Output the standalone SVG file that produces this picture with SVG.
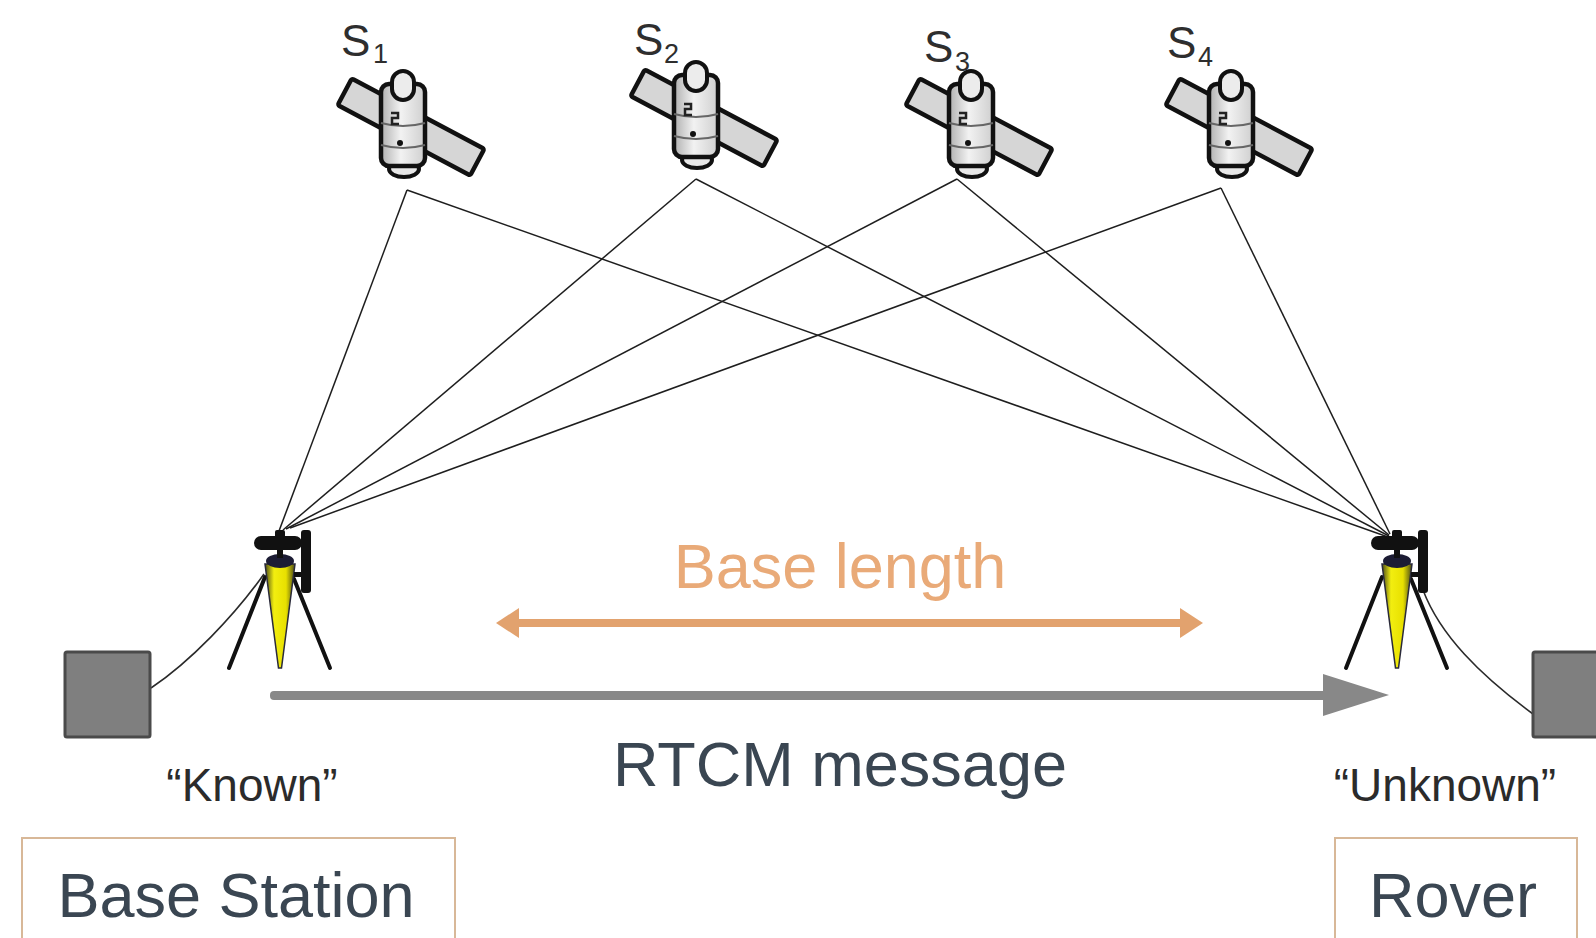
<svg xmlns="http://www.w3.org/2000/svg" width="1596" height="938" viewBox="0 0 1596 938">
  <style>
    .sig { stroke: #1e1e1e; stroke-width: 1.5; fill: none; }
    .cable { stroke: #2a2a2a; stroke-width: 1.6; fill: none; }
    .slab { font-family: "Liberation Sans", Arial, sans-serif; font-size: 44px; fill: #2e2e2e; }
    .ssub { font-family: "Liberation Sans", Arial, sans-serif; font-size: 27px; fill: #2e2e2e; }
    .quote { font-family: "Liberation Sans", Arial, sans-serif; font-size: 46px; fill: #2b2b2b; }
    .big { font-family: "Liberation Sans", Arial, sans-serif; font-size: 63px; fill: #3a4652; }
    .orange { fill: #e9aa78; }
    .box { fill: #7f7f7f; stroke: #4a4a4a; stroke-width: 3; }
    .frame { fill: #ffffff; stroke: #d8b898; stroke-width: 2; }
  </style>
  <defs>
    <linearGradient id="bodyShade" x1="0" y1="0" x2="1" y2="0">
      <stop offset="0" stop-color="#b0b0b0"/>
      <stop offset="0.45" stop-color="#f2f2f2"/>
      <stop offset="1" stop-color="#cfcfcf"/>
    </linearGradient>
    <linearGradient id="coneShade" x1="0" y1="0" x2="1" y2="0">
      <stop offset="0" stop-color="#4a4a18"/>
      <stop offset="0.3" stop-color="#f2ee10"/>
      <stop offset="0.7" stop-color="#e8e000"/>
      <stop offset="1" stop-color="#4a4a18"/>
    </linearGradient>
    <!-- satellite icon, origin at body centre -->
    <g id="sat">
      <rect x="-75" y="-15" width="150" height="30" rx="2" transform="translate(8,2) rotate(28)" fill="#d6d6d6" stroke="#111" stroke-width="4.5" stroke-linejoin="round"/>
      <ellipse cx="1" cy="44" rx="15" ry="8" fill="#e8e8e8" stroke="#111" stroke-width="4"/>
      <rect x="-22" y="-41" width="44" height="82" rx="8" fill="url(#bodyShade)" stroke="#111" stroke-width="4.5"/>
      <path d="M-22,-2 Q0,4 22,-2 M-22,20 Q0,26 22,20" fill="none" stroke="#666" stroke-width="2"/>
      <path d="M-12,-12 h7 v5 h-6 v6 h7" fill="none" stroke="#222" stroke-width="2.5"/>
      <circle cx="-3" cy="18" r="3" fill="#111"/>
      <rect x="-11" y="-54" width="22" height="29" rx="11" fill="#ececec" stroke="#111" stroke-width="4"/>
    </g>
    <!-- survey tripod with antenna, origin at cone centre line -->
    <g id="tripod">
      <line x1="-15" y1="577" x2="-51" y2="668" stroke="#111" stroke-width="4" stroke-linecap="round"/>
      <line x1="14" y1="579" x2="50" y2="668" stroke="#111" stroke-width="4" stroke-linecap="round"/>
      <path d="M-15,564 L15,564 L1.5,668 L-1.5,668 Z" fill="url(#coneShade)" stroke="#2a2a3a" stroke-width="1.5"/>
      <ellipse cx="0" cy="561" rx="14" ry="7" fill="#1c1c34"/>
      <rect x="-3" y="548" width="6" height="10" fill="#111"/>
      <rect x="-26" y="536" width="48" height="14" rx="7" fill="#111"/>
      <rect x="-5" y="530" width="10" height="8" rx="2" fill="#111"/>
      <rect x="21" y="530" width="10" height="63" rx="3" fill="#111"/>
      <rect x="14" y="572" width="10" height="5" fill="#111"/>
    </g>
  </defs>

  <rect x="0" y="0" width="1596" height="938" fill="#ffffff"/>

  <!-- signal paths from each satellite to both receivers -->
  <g id="connectors">
    <line class="sig" x1="407" y1="190" x2="279" y2="531"/>
    <line class="sig" x1="407" y1="190" x2="1388" y2="537"/>
    <line class="sig" x1="696" y1="179" x2="283" y2="530"/>
    <line class="sig" x1="696" y1="179" x2="1389" y2="536"/>
    <line class="sig" x1="957" y1="179" x2="286" y2="529"/>
    <line class="sig" x1="957" y1="179" x2="1389" y2="535"/>
    <line class="sig" x1="1221" y1="188" x2="290" y2="528"/>
    <line class="sig" x1="1221" y1="188" x2="1390" y2="534"/>
    <!-- cables from receivers to controller boxes -->
    <path class="cable" d="M151,688 C190,662 235,615 264,574"/>
    <path class="cable" d="M1423,590 C1440,635 1480,675 1533,714"/>
    <!-- baseline arrow -->
    <g id="base-length-arrow" fill="#e2a26e">
      <rect x="516" y="619" width="668" height="8"/>
      <polygon points="496,623 519,608 519,638"/>
      <polygon points="1203,623 1180,608 1180,638"/>
    </g>
    <!-- correction stream arrow -->
    <g id="rtcm-arrow" fill="#888888">
      <rect x="270" y="691" width="1058" height="9" rx="4"/>
      <polygon points="1323,674 1389,695 1323,716"/>
    </g>
  </g>

  <g id="s1">
    <use href="#sat" transform="translate(403,125)"/>
    <text class="slab" x="341" y="56">S</text>
    <text class="ssub" x="373" y="63">1</text>
  </g>
  <g id="s2">
    <use href="#sat" transform="translate(696,116)"/>
    <text class="slab" x="634" y="55">S</text>
    <text class="ssub" x="664" y="63">2</text>
  </g>
  <g id="s3">
    <use href="#sat" transform="translate(971,125)"/>
    <text class="slab" x="924" y="62">S</text>
    <text class="ssub" x="955" y="71">3</text>
  </g>
  <g id="s4">
    <use href="#sat" transform="translate(1231,125)"/>
    <text class="slab" x="1167" y="58">S</text>
    <text class="ssub" x="1198" y="66">4</text>
  </g>

  <g id="base-station">
    <use href="#tripod" transform="translate(280,0)"/>
    <rect class="box" x="65" y="652" width="85" height="85" rx="2"/>
    <text class="quote" x="252" y="801" text-anchor="middle">“Known”</text>
    <rect class="frame" x="22" y="838" width="433" height="110"/>
    <text class="big" x="236" y="917" text-anchor="middle">Base Station</text>
  </g>

  <g id="rover">
    <use href="#tripod" transform="translate(1397,0)"/>
    <rect class="box" x="1533" y="652" width="80" height="85" rx="2"/>
    <text class="quote" x="1445" y="801" text-anchor="middle">“Unknown”</text>
    <rect class="frame" x="1335" y="838" width="242" height="110"/>
    <text class="big" x="1453" y="917" text-anchor="middle">Rover</text>
  </g>

  <g id="labels">
    <text class="big orange" x="840" y="588" text-anchor="middle">Base length</text>
    <text class="big" x="840" y="786" text-anchor="middle">RTCM message</text>
  </g>
</svg>
